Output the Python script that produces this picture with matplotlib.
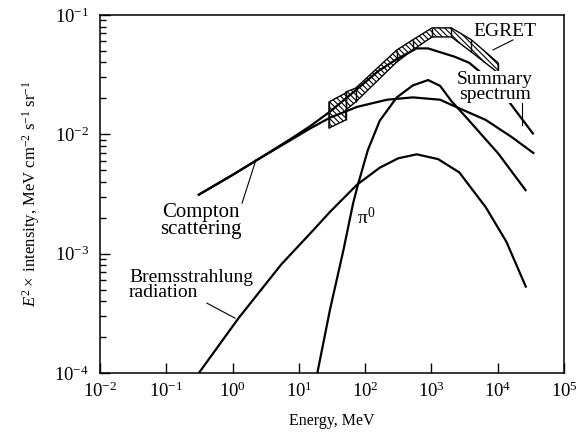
import matplotlib
matplotlib.use("Agg")
import matplotlib.pyplot as plt
from matplotlib.ticker import LogLocator, NullLocator

plt.rcParams['font.family'] = ['Liberation Serif', 'DejaVu Serif']
plt.rcParams['mathtext.fontset'] = 'custom'
plt.rcParams['mathtext.rm'] = 'Liberation Serif'
plt.rcParams['mathtext.it'] = 'Liberation Serif:italic'
plt.rcParams['hatch.linewidth'] = 0.8

# Summary spectrum (MeV, E^2 x intensity)
summary_e = [0.30, 1.0, 2.34, 7.4, 14.8, 29.5, 76, 158, 300, 600, 890, 1320, 2240, 3700,
             7100, 13200, 34700]
summary_i = [3.09e-3, 4.57e-3, 6.1e-3, 9.1e-3, 1.17e-2, 1.55e-2, 2.4e-2, 3.39e-2, 4.27e-2,
             5.25e-2, 5.25e-2, 4.90e-2, 4.47e-2, 3.98e-2, 2.95e-2, 2.04e-2, 1.0e-2]

# Compton scattering
compton_e = [0.30, 1.0, 2.34, 7.4, 14.8, 29.5, 76, 214, 525, 1350, 2340, 6600, 16200, 35500]
compton_i = [3.09e-3, 4.57e-3, 6.1e-3, 8.9e-3, 1.12e-2, 1.38e-2, 1.70e-2, 1.95e-2, 2.04e-2,
             1.95e-2, 1.70e-2, 1.32e-2, 9.5e-3, 6.9e-3]

# Bremsstrahlung radiation
brems_e = [0.31, 1.23, 5.4, 16.6, 29.5, 76, 166, 316, 600, 1260, 2630, 6600, 13500, 26900]
brems_i = [1.0e-4, 2.88e-4, 8.1e-4, 1.58e-3, 2.24e-3, 3.8e-3, 5.25e-3, 6.3e-3, 6.8e-3,
           6.2e-3, 4.8e-3, 2.45e-3, 1.26e-3, 5.2e-4]

# pi0 decay
pion_e = [19, 29.5, 47, 66, 78, 110, 166, 300, 525, 890, 1350, 2000, 3300, 10200, 26900]
pion_i = [1.0e-4, 3.4e-4, 1.07e-3, 2.66e-3, 3.8e-3, 7.4e-3, 1.30e-2, 2.04e-2, 2.57e-2,
          2.85e-2, 2.55e-2, 1.9e-2, 1.40e-2, 6.9e-3, 3.35e-3]

# EGRET data band (repeated energy = step between boxes)
egret_e = [28.5, 51, 51, 72, 300, 525, 1020, 2000, 4000, 10200]
egret_hi = [1.87e-2, 2.22e-2, 2.26e-2, 2.44e-2, 5.09e-2, 6.2e-2, 7.8e-2, 7.8e-2, 6.2e-2, 3.96e-2]
egret_lo = [1.13e-2, 1.32e-2, 1.60e-2, 1.87e-2, 4.04e-2, 5.1e-2, 6.55e-2, 6.55e-2, 4.9e-2, 3.27e-2]

fig = plt.figure(figsize=(5.77, 4.34), dpi=100)
ax = fig.add_axes([100 / 577, 1 - 373 / 434, 464 / 577, 358 / 434])
ax.set_xscale('log')
ax.set_yscale('log')
ax.set_xlim(1e-2, 1e5)
ax.set_ylim(1e-4, 1e-1)

# EGRET hatched band
ax.fill_between(egret_e, egret_lo, egret_hi, facecolor='white', edgecolor='black',
                hatch='\\\\\\\\\\\\', linewidth=1.0, zorder=1)
ax.vlines(egret_e, egret_lo, egret_hi, color='black', linewidth=1.0, zorder=1)

line_kw = dict(color='black', linewidth=1.6, solid_capstyle='butt', zorder=2)
ax.plot(summary_e, summary_i, **line_kw)
ax.plot(compton_e, compton_i, **line_kw)
ax.plot(brems_e, brems_i, **line_kw)
ax.plot(pion_e, pion_i, **line_kw)

# Labels and pointer lines
ax.text(1.3e4, 7.3e-2, "EGRET", fontsize=14, ha='center', va='center', zorder=4)
ax.plot([8.5e3, 1.7e4], [5.1e-2, 6.18e-2], color='black', linewidth=0.8, zorder=4)

ax.text(9.1e3, 2.5e-2, "Summary\nspectrum", fontsize=14, ha='center', va='center',
        linespacing=0.85, zorder=4,
        bbox=dict(facecolor='white', edgecolor='none', pad=0))
ax.plot([2.32e4, 2.32e4], [1.83e-2, 1.2e-2], color='black', linewidth=0.8, zorder=4)

ax.text(0.333, 1.87e-3, "Compton\nscattering", fontsize=15, ha='center', va='center',
        linespacing=0.85, zorder=4)
ax.plot([1.39, 2.25], [2.65e-3, 6.1e-3], color='black', linewidth=0.8, zorder=4)

ax.text(0.0275, 5.45e-4, "Bremsstrahlung\nradiation", fontsize=14, ha='left', va='center',
        linespacing=0.85, zorder=4)
ax.plot([0.41, 1.09], [3.85e-4, 2.88e-4], color='black', linewidth=0.8, zorder=4)

ax.text(76, 2.0e-3, r"π$^0$", fontsize=14, ha='left', va='center', zorder=4)

ax.set_xlabel("Energy, MeV", fontsize=11.5, labelpad=9)
ax.set_ylabel(r"$E^2\times$ intensity, MeV cm$^{-2}$ s$^{-1}$ sr$^{-1}$", fontsize=12, labelpad=9)

ax.xaxis.set_major_locator(LogLocator(base=10, numticks=10))
ax.xaxis.set_minor_locator(NullLocator())
ax.yaxis.set_major_locator(LogLocator(base=10, numticks=10))
ax.yaxis.set_minor_locator(LogLocator(base=10, subs=range(2, 10), numticks=10))
ax.tick_params(which='both', direction='in', top=False, right=False, labelsize=13.5)
ax.tick_params(axis='x', which='major', length=7.5, width=1, pad=6)
ax.tick_params(axis='y', which='major', length=7, width=1, pad=8)
ax.tick_params(axis='y', which='minor', length=4.5, width=1)
for s in ax.spines.values():
    s.set_linewidth(1.1)

fig.savefig("out.png", dpi=100)
